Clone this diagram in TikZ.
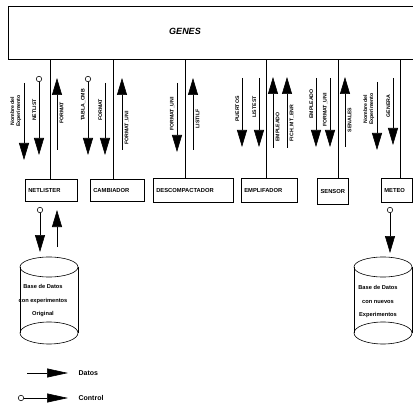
\documentclass[tikz,border=0pt]{standalone}
\usepackage{fontspec}
\setsansfont{Liberation Sans}
\usetikzlibrary{arrows.meta}

\tikzset{
  dat/.style={-{Triangle[length=17pt,width=10pt]}},
  ctl/.style={{Circle[open,length=6pt,width=6pt]}-{Triangle[length=17pt,width=10pt]}},
  modbox/.style={draw, anchor=north west, minimum height=22pt, inner sep=3pt, align=left,
    font=\fontsize{5.8}{7}\selectfont\sffamily\bfseries},
  lbl/.style={rotate=90, inner sep=0.5pt, align=center,
    font=\fontsize{5.2}{6}\selectfont\sffamily\bfseries},
  dbtxt/.style={align=center, font=\fontsize{5.7}{13.5}\selectfont\sffamily\bfseries},
  leg/.style={anchor=west, font=\fontsize{7}{8}\selectfont\sffamily\bfseries},
}

\begin{document}
\begin{tikzpicture}[x=1pt,y=-1pt, line width=0.6pt]
\useasboundingbox (0,0) rectangle (413,404);

\node[draw, anchor=north west, minimum width=420pt, minimum height=53pt] (genes) at (8,6) {};
\node[font=\fontsize{9}{10}\selectfont\sffamily\bfseries\itshape] (title) at (185,31) {GENES};

% modulos
\node[modbox, minimum width=52pt, text width=46pt] (netlister) at (25,179) {NETLISTER};
\node[modbox, minimum width=54pt, text width=48pt] (cambiador) at (90,179) {CAMBIADOR};
\node[modbox, minimum width=80pt, text width=74pt, minimum height=24pt] (descomp) at (153,178) {DESCOMPACTADOR};
\node[modbox, minimum width=56pt, text width=50pt, minimum height=24pt] (emplif) at (241,178) {EMPLIFADOR};
\node[modbox, minimum width=31pt, text width=25pt, minimum height=26pt, align=center] (sensor) at (317,178) {SENSOR};
\node[modbox, minimum width=31pt, text width=25pt, minimum height=24pt] (meteo) at (381,178) {METEO};

\coordinate (x1) at (50,0);
\coordinate (x2) at (113,0);
\coordinate (x3) at (185,0);
\coordinate (x4) at (266,0);
\coordinate (x5) at (338,0);
\coordinate (x6) at (400,0);
\draw (x1 |- genes.south) -- (x1 |- netlister.north);
\draw (x2 |- genes.south) -- (x2 |- cambiador.north);
\draw (x3 |- genes.south) -- (x3 |- descomp.north);
\draw (x4 |- genes.south) -- (x4 |- emplif.north);
\draw (x5 |- genes.south) -- (x5 |- sensor.north);
\draw (x6 |- genes.south) -- (x6 |- meteo.north);

% flujos
\draw[dat] (24,83) -- (24,160);
\draw[ctl] (39,76) -- (39,155);
\draw[dat] (57,150) -- (57,78);
\draw[ctl] (88,76) -- (88,155);
\draw[dat] (105,83) -- (105,155);
\draw[dat] (122,150) -- (122,78);
\draw[dat] (177,83) -- (177,152);
\draw[dat] (193,150) -- (193,78);
\draw[dat] (242,78) -- (242,147);
\draw[dat] (259,78) -- (259,147);
\draw[dat] (273,148) -- (273,77);
\draw[dat] (287,148) -- (287,77);
\draw[dat] (316,78) -- (316,147);
\draw[dat] (330,78) -- (330,147);
\draw[dat] (345,147) -- (345,77);
\draw[dat] (377,82) -- (377,150);
\draw[dat] (393,78) -- (393,145);

\node[lbl, anchor=south] (n1) at (22,111) {Nombre del\\Experimento};
\node[lbl, anchor=south] (n2) at (37,110) {NETLIST};
\node[lbl, anchor=north] (n3) at (59,113) {FORMAT};
\node[lbl, anchor=south] (n4) at (86,105) {TABLA\_CMB};
\node[lbl, anchor=south] (n5) at (103,110) {FORMAT};
\node[lbl, anchor=north] (n6) at (124,128) {FORMAT\_UNI};
\node[lbl, anchor=south] (n7) at (175,114) {FORMAT\_UNI};
\node[lbl, anchor=north] (n8) at (195,119) {LISTILF};
\node[lbl, anchor=south] (n9) at (240,109) {PUERTOS};
\node[lbl, anchor=south] (n10) at (257,107) {LISTEST};
\node[lbl, anchor=north] (n11) at (275,127) {EMPLEADO};
\node[lbl, anchor=north] (n12) at (289,123) {FICH\_MT\_ENR};
\node[lbl, anchor=south] (n13) at (314,104) {EMPLEADO};
\node[lbl, anchor=south] (n14) at (328,110) {FORMAT\_UNI};
\node[lbl, anchor=north] (n15) at (347,120) {SENALES};
\node[lbl, anchor=south] (n16) at (375,109) {Nombre del\\Experimento};
\node[lbl, anchor=south] (n17) at (391,106) {GENERA};

% bases de datos
\draw[ctl] (40,207) -- (40,252);
\draw[dat] (57,247) -- (57,210);
\draw (49,267) ellipse (29pt and 10pt);
\draw (20,267) -- (20,333);
\draw (78,267) -- (78,333);
\draw (49,333) ellipse (29pt and 11pt);
\node[dbtxt] (dbold) at (43,301) {Base de Datos\\con experimentos\\Original};

\draw[ctl] (390,207) -- (390,253);
\draw (383,267) ellipse (29pt and 10pt);
\draw (354,267) -- (354,333);
\draw (412,267) -- (412,333);
\draw (383,333) ellipse (29pt and 11pt);
\node[dbtxt] (dbnew) at (378,302) {Base de Datos\\con nuevos\\Experimentos};

% leyenda
\draw[dat, -{Triangle[length=21pt,width=9pt]}] (27,373) -- (68,373);
\node[leg] (ldat) at (75,373) {Datos};
\draw[{Circle[open,length=6pt,width=6pt]}-{Triangle[length=21pt,width=9pt]}] (18,398) -- (68,398);
\node[leg] (lctl) at (75,398) {Control};
\end{tikzpicture}
\end{document}
